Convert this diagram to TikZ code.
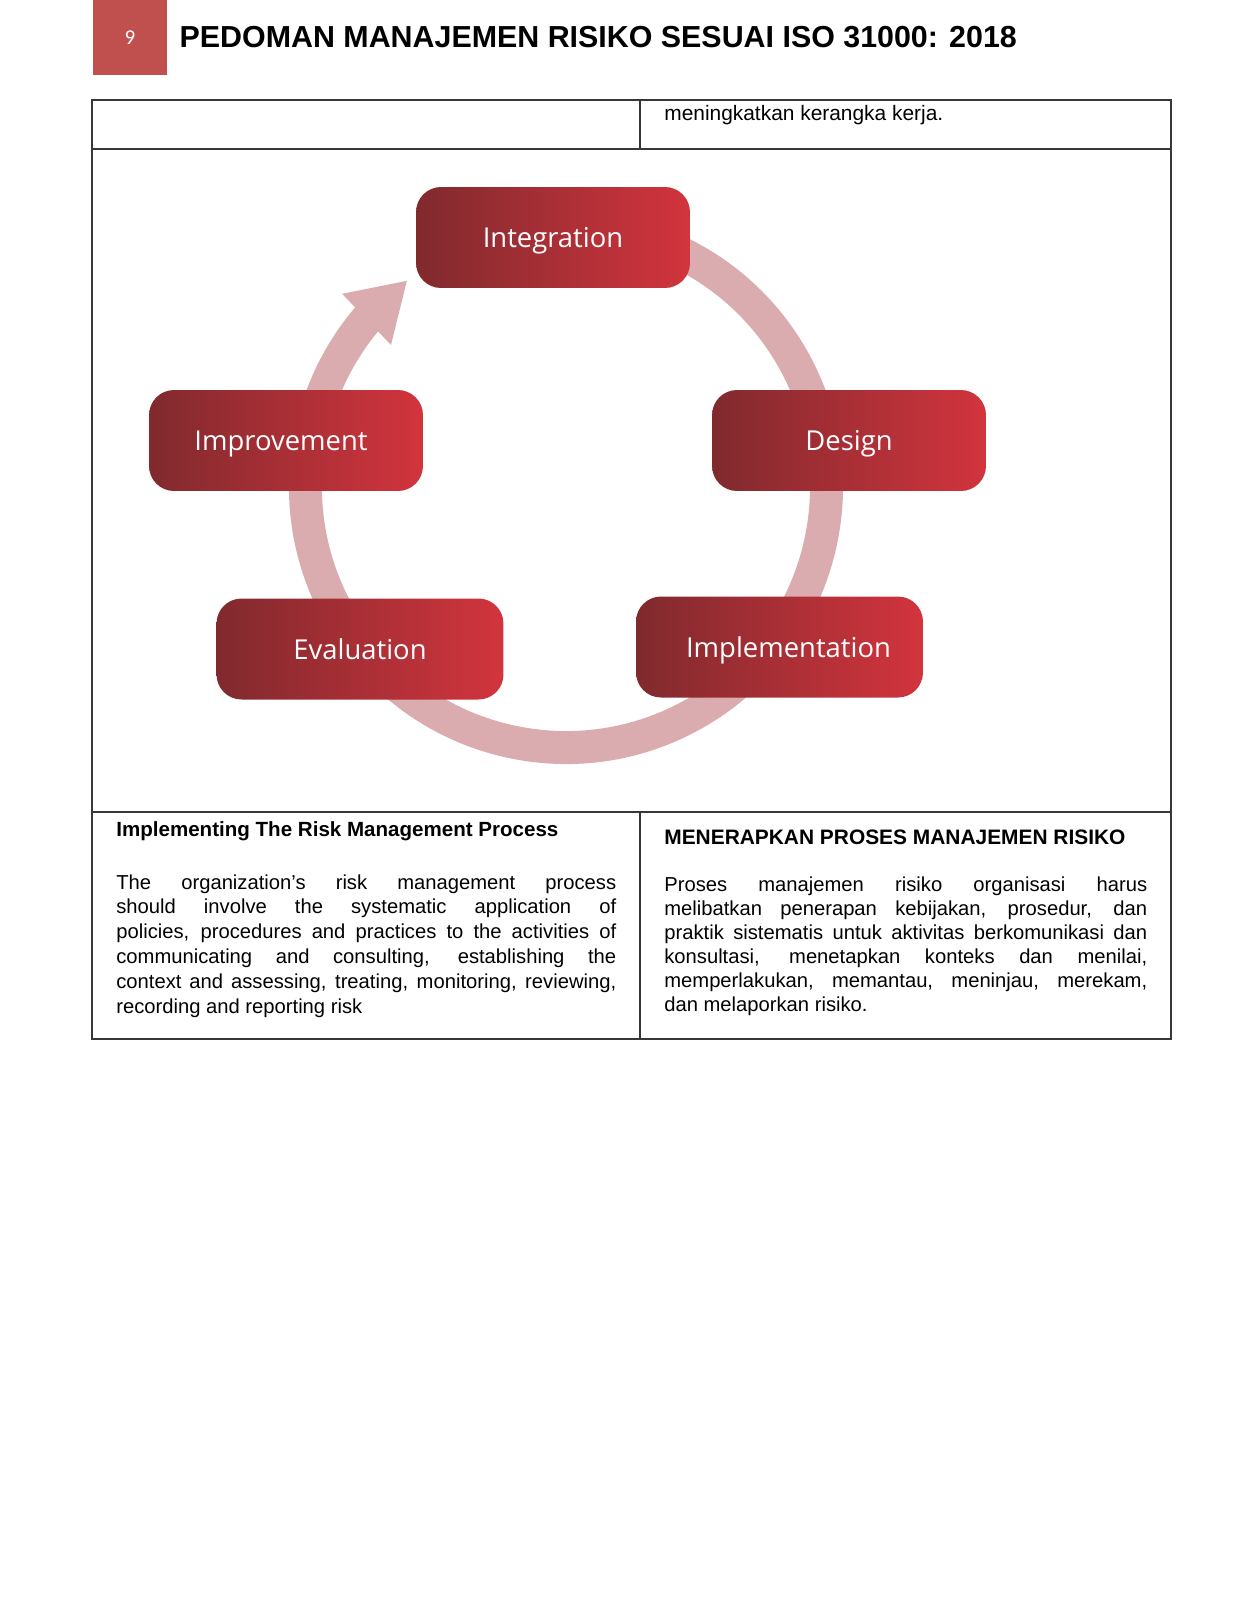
\documentclass[tikz,border=0pt]{standalone}
\usepackage{fontspec}
\setmainfont{Liberation Sans}
\newfontfamily\boxfont{Open Sans}
\newfontfamily\numfont{Carlito}
\usepackage{xcolor}
\usetikzlibrary{arrows.meta,bending,positioning}

\definecolor{pagered}{RGB}{192,80,77}
\definecolor{boxdark}{RGB}{128,42,46}
\definecolor{boxred}{RGB}{210,52,61}
\definecolor{ringpink}{RGB}{218,172,175}
\definecolor{rulegray}{RGB}{55,55,55}

\begin{document}
\begin{tikzpicture}[
  x=0.02cm, y=0.02cm,
  stage/.style={rectangle, rounded corners=0.5cm, left color=boxdark, right color=boxred,
                minimum width=5.48cm, minimum height=2.02cm, text=white, text depth=0pt,
                font=\boxfont\fontsize{15.6}{19}\selectfont},
  widestage/.style={stage, minimum width=5.74cm},
  ring/.style={ringpink, line width=0.66cm, -{Triangle[flex, width=1.33cm, length=1.13cm]}},
  cell/.style={rulegray, line width=0.6pt},
  body/.style={anchor=north west, inner sep=0pt, align=justify,
               font=\fontsize{11.5}{14.2}\selectfont},
  head/.style={anchor=base west, inner sep=0pt, font=\bfseries\fontsize{11.7}{14}\selectfont},
  plain/.style={anchor=base west, inner sep=0pt, font=\fontsize{11.9}{14}\selectfont}
]
\useasboundingbox (0,0) rectangle (1237,-1600);

% Page header
\node[fill=pagered, minimum width=1.48cm, minimum height=1.5cm, inner sep=0pt,
      text=white, font=\numfont\fontsize{12}{14}\selectfont] (pageno) at (130,-37.5) {9};
\node[right=0.24cm of pageno, inner sep=0pt, font=\bfseries\fontsize{17.3}{20}\selectfont]
  (title) {PEDOMAN MANAJEMEN RISIKO SESUAI ISO 31000: 2018};

% Table
\draw[cell] (92,-100) rectangle (1171,-1039);
\draw[cell] (92,-149) -- (1171,-149);
\draw[cell] (92,-812) -- (1171,-812);
\draw[cell] (640,-100) -- (640,-149);
\draw[cell] (640,-812) -- (640,-1039);

\node[plain] (carry) at (664,-120) {meningkatkan kerangka kerja.};

% Cycle
\coordinate (hub) at (566,-487);
\draw[ring] ([shift={(80:260.5)}]hub) arc[start angle=80, end angle=-232.5, radius=260.5];

\node[stage] (integ) at (553,-237.5) {Integration};
\node[stage] (design) at (849,-440.5) {Design};
\node[widestage] (implem) at (779.5,-647) {\hspace*{0.36cm}Implementation};
\node[widestage] (evalu) at (360,-649) {Evaluation};
\node[stage] (improv) at (286,-440.5) {Improvement\hspace*{0.2cm}};

% Bottom row
\node[head] (headen) at (116,-836) {Implementing The Risk Management Process};
\node[head, font=\bfseries\fontsize{11.9}{14}\selectfont] (headid) at (664,-844)
  {MENERAPKAN PROSES MANAJEMEN RISIKO};

\node[body, text width=10cm] (texten) at (116,-874) {The organization’s risk management process\linebreak
should involve the systematic application of\linebreak
policies, procedures and practices to the activities of\linebreak
communicating and consulting, establishing the\linebreak
context and assessing, treating, monitoring, reviewing,\linebreak
recording and reporting risk};

\node[body, text width=9.66cm, font=\fontsize{11.5}{13.7}\selectfont] (textid) at (664,-876) {Proses manajemen risiko organisasi harus\linebreak
melibatkan penerapan kebijakan, prosedur, dan\linebreak
praktik sistematis untuk aktivitas berkomunikasi dan\linebreak
konsultasi, menetapkan konteks dan menilai,\linebreak
memperlakukan, memantau, meninjau, merekam,\linebreak
dan melaporkan risiko.};

\end{tikzpicture}
\end{document}
